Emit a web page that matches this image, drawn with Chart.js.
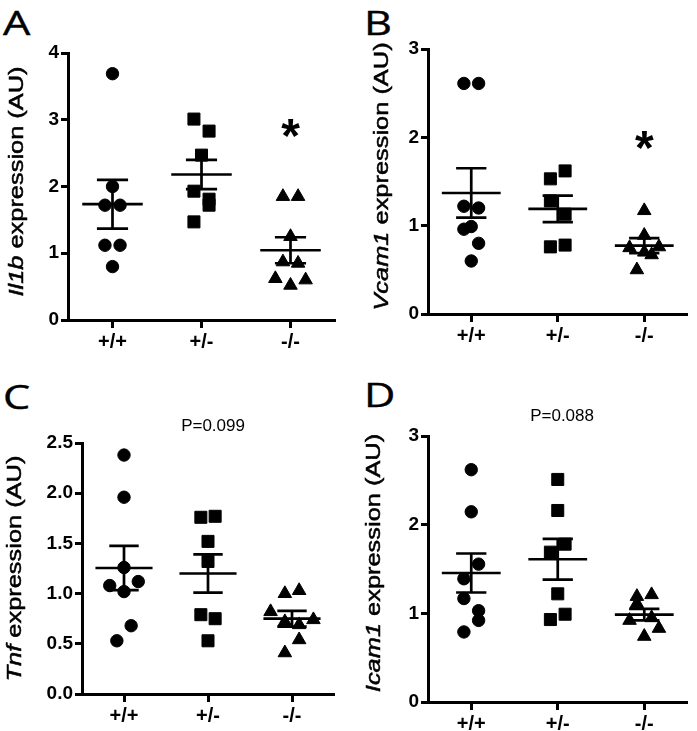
<!DOCTYPE html>
<html>
<head>
<meta charset="utf-8">
<script src="https://cdn.jsdelivr.net/npm/chart.js@4.4.0/dist/chart.umd.min.js"></script>
<style>
    body { margin: 0; background: #fff; width: 697px; height: 731px; position: relative; overflow: hidden; }
    .panel { position: absolute; }
    .letter {
        position: absolute;
        font-family: "Open Sans", sans-serif;
        font-size: 32px;
        line-height: 1;
        color: #000;
        transform-origin: 0 0;
        transform: scaleX(1.35);
        -webkit-text-stroke: 0.4px #000;
    }
</style>
</head>
<body>
<div class="letter" style="left:3px;top:7px">A</div>
<div class="letter" style="left:364px;top:7px">B</div>
<div class="letter" style="left:3px;top:381px">C</div>
<div class="letter" style="left:364px;top:379px">D</div>
<div class="panel" style="left:0;top:0"><canvas id="chartA" width="347" height="360"></canvas></div>
<div class="panel" style="left:347px;top:0"><canvas id="chartB" width="350" height="360"></canvas></div>
<div class="panel" style="left:0;top:360px"><canvas id="chartC" width="347" height="371"></canvas></div>
<div class="panel" style="left:347px;top:360px"><canvas id="chartD" width="350" height="371"></canvas></div>

<script>
// Genotype groups
const groups = ['+/+', '+/-', '-/-'];

// A - Il1b
const il1bWT = [3.69, 2.0, 1.72, 1.72, 1.12, 1.12, 0.8];
const il1bHet = [3.01, 2.83, 2.47, 1.93, 1.81, 1.72, 1.47];
const il1bKO = [1.85, 1.85, 1.25, 0.87, 0.85, 0.62, 0.60, 0.52];
const il1bMean = [1.735, 2.18, 1.045];
const il1bSem = [0.365, 0.22, 0.195];

// B - Vcam1
const vcamWT = [2.61, 2.61, 1.22, 1.20, 0.99, 0.96, 0.80, 0.60];
const vcamHet = [1.62, 1.53, 1.28, 1.13, 0.78, 0.76];
const vcamKO = [1.17, 0.89, 0.76, 0.75, 0.70, 0.67, 0.50];
const vcamMean = [1.37, 1.19, 0.775];
const vcamSem = [0.28, 0.15, 0.085];

// C - Tnf
const tnfWT = [2.38, 1.96, 1.26, 1.12, 1.08, 1.02, 0.68, 0.53];
const tnfHet = [1.77, 1.76, 1.52, 1.32, 0.79, 0.75, 0.53];
const tnfKO = [1.03, 1.00, 0.82, 0.74, 0.72, 0.69, 0.54, 0.41];
const tnfMean = [1.255, 1.2, 0.75];
const tnfSem = [0.22, 0.19, 0.078];

// D - Icam1
const icamWT = [2.62, 2.145, 1.555, 1.39, 1.167, 1.03, 0.92, 0.79];
const icamHet = [2.51, 2.16, 1.78, 1.69, 1.22, 0.99, 0.93];
const icamKO = [1.21, 1.19, 1.11, 0.95, 0.92, 0.83, 0.74];
const icamMean = [1.455, 1.61, 0.985];
const icamSem = [0.22, 0.23, 0.065];

// scatter column slot of each point (left/right of the group centre)
const il1bSlots = [[0, 0, -1, 1, -1, 1, 0], [-1, 1, 0, -1, 1, 1, -1], [-1, 1, 0, -1, 1, -2, 2, 0]];
const vcamSlots = [[-1, 1, -1, 1, 0, -1, 1, 0], [1, -1, -1, 1, 1, -1], [0, 0, 2, -2, 0, 1, -1]];
const tnfSlots = [[0, 0, 0, 2, -2, 0, 1, -1], [1, -1, 0, 0, -1, 1, 0], [1, -1, -3, 3, -1, 1, 1, -1]];
const icamSlots = [[0, 0, 1, -1, -1, 1, 1, -1], [0, 0, 1, -1, 0, 1, -1], [1, -1, -1, 1, -2, 2, 0]];

const SLOT = 0.085;
const FONT = '"Liberation Sans", Arial, sans-serif';
const LINE = 3;

function toPoints(values, slots, g) {
    return values.map((v, i) => ({ x: g + slots[i] * SLOT, y: v }));
}

// mean +/- SEM bars, axis title and annotations
function overlay(p) {
    return {
        id: 'overlay',
        afterDatasetsDraw(chart) {
            const { ctx, scales: { x, y } } = chart;
            ctx.save();
            ctx.strokeStyle = '#000';
            ctx.lineWidth = 2.7;
            p.mean.forEach((m, i) => {
                const cx = x.getPixelForValue(i);
                const half = x.getPixelForValue(i + 0.34) - cx;
                const cap = x.getPixelForValue(i + 0.175) - cx;
                const ym = y.getPixelForValue(m);
                const yt = y.getPixelForValue(m + p.sem[i]);
                const yb = y.getPixelForValue(m - p.sem[i]);
                ctx.beginPath();
                ctx.moveTo(cx - half, ym); ctx.lineTo(cx + half, ym);
                ctx.moveTo(cx - cap, yt); ctx.lineTo(cx + cap, yt);
                ctx.moveTo(cx - cap, yb); ctx.lineTo(cx + cap, yb);
                ctx.moveTo(cx, yt); ctx.lineTo(cx, yb);
                ctx.stroke();
            });
            ctx.restore();
        },
        afterDraw(chart) {
            const { ctx, chartArea, scales: { x, y } } = chart;
            ctx.save();
            ctx.fillStyle = '#000';
            ctx.strokeStyle = '#000';
            ctx.lineWidth = 0.5;

            // y axis title, italic gene name
            ctx.translate(p.titleX, (chartArea.top + chartArea.bottom) / 2 + p.titleShift);
            ctx.rotate(-Math.PI / 2);
            ctx.scale(1.27, 1);
            ctx.textBaseline = 'middle';
            ctx.textAlign = 'left';
            const fi = 'italic 20px ' + FONT, fn = '20px ' + FONT;
            ctx.font = fi;
            const w1 = ctx.measureText(p.gene).width;
            ctx.font = fn;
            const w2 = ctx.measureText(' expression (AU)').width;
            const sx = -(w1 + w2) / 2;
            ctx.font = fi;
            ctx.fillText(p.gene, sx, 0);
            ctx.strokeText(p.gene, sx, 0);
            ctx.font = fn;
            ctx.fillText(' expression (AU)', sx + w1, 0);
            ctx.strokeText(' expression (AU)', sx + w1, 0);
            ctx.setTransform(1, 0, 0, 1, 0, 0);

            if (p.star) {
                ctx.font = 'bold 48px ' + FONT;
                ctx.textAlign = 'center';
                ctx.textBaseline = 'alphabetic';
                const m = ctx.measureText('*');
                const cy = y.getPixelForValue(p.star[1]);
                ctx.fillText('*', x.getPixelForValue(p.star[0]), cy + (m.actualBoundingBoxAscent - m.actualBoundingBoxDescent) / 2);
            }
            if (p.pText) {
                ctx.font = '17px ' + FONT;
                ctx.textAlign = 'center';
                ctx.textBaseline = 'middle';
                ctx.fillText(p.pText, x.getPixelForValue(p.pPos[0]), y.getPixelForValue(p.pPos[1]));
            }
            ctx.restore();
        }
    };
}

function makePanel(id, p) {
    const styles = ['circle', 'rect', 'triangle'];
    const radii = [6.2, 8.5, 7.8];
    const datasets = p.values.map((vals, g) => ({
        data: toPoints(vals, p.slots[g], g),
        pointStyle: styles[g],
        pointRadius: radii[g],
        pointBackgroundColor: '#000',
        pointBorderColor: '#000',
        pointBorderWidth: 1
    }));
    const canvas = document.getElementById(id);

    new Chart(canvas, {
        type: 'scatter',
        data: { datasets },
        options: {
            responsive: false,
            animation: false,
            devicePixelRatio: 1,
            layout: { padding: { left: 0, top: p.top, right: canvas.width - p.right, bottom: 0 } },
            plugins: { legend: { display: false }, tooltip: { enabled: false } },
            scales: {
                x: {
                    type: 'linear',
                    min: -0.5,
                    max: 2.5,
                    afterBuildTicks: s => { s.ticks = [0, 1, 2].map(v => ({ value: v })); },
                    afterFit: s => { s.height = canvas.height - p.bottom; },
                    ticks: {
                        callback: v => groups[v],
                        color: '#000',
                        padding: 2,
                        maxRotation: 0,
                        autoSkip: false,
                        font: { family: FONT, size: 20, weight: 'bold' }
                    },
                    grid: { drawOnChartArea: false, drawTicks: true, tickLength: 8, tickWidth: LINE, tickColor: '#000' },
                    border: { display: true, color: '#000', width: LINE }
                },
                y: {
                    min: 0,
                    max: p.yMax,
                    afterFit: s => { s.width = p.left; },
                    ticks: {
                        stepSize: p.step,
                        callback: v => p.step < 1 ? v.toFixed(1) : v,
                        color: '#000',
                        padding: 2,
                        font: { family: FONT, size: 19, weight: 'bold' }
                    },
                    grid: { drawOnChartArea: false, drawTicks: true, tickLength: 7, tickWidth: LINE, tickColor: '#000' },
                    border: { display: true, color: '#000', width: LINE }
                }
            }
        },
        plugins: [overlay(p)]
    });
}

makePanel('chartA', {
    values: [il1bWT, il1bHet, il1bKO], slots: il1bSlots, mean: il1bMean, sem: il1bSem,
    yMax: 4, step: 1, gene: 'Il1b', star: [2, 2.88],
    left: 68, right: 335, top: 53, bottom: 320, titleX: 17, titleShift: -5
});
makePanel('chartB', {
    values: [vcamWT, vcamHet, vcamKO], slots: vcamSlots, mean: vcamMean, sem: vcamSem,
    yMax: 3, step: 1, gene: 'Vcam1', star: [2, 1.97],
    left: 81, right: 348, top: 49, bottom: 314, titleX: 35, titleShift: -5
});
makePanel('chartC', {
    values: [tnfWT, tnfHet, tnfKO], slots: tnfSlots, mean: tnfMean, sem: tnfSem,
    yMax: 2.5, step: 0.5, gene: 'Tnf', pText: 'P=0.099', pPos: [1.06, 2.67],
    left: 82, right: 334, top: 83, bottom: 334, titleX: 15, titleShift: 0
});
makePanel('chartD', {
    values: [icamWT, icamHet, icamKO], slots: icamSlots, mean: icamMean, sem: icamSem,
    yMax: 3, step: 1, gene: 'Icam1', pText: 'P=0.088', pPos: [1.05, 3.22],
    left: 81, right: 348, top: 76, bottom: 342, titleX: 27, titleShift: -6
});
</script>
</body>
</html>
